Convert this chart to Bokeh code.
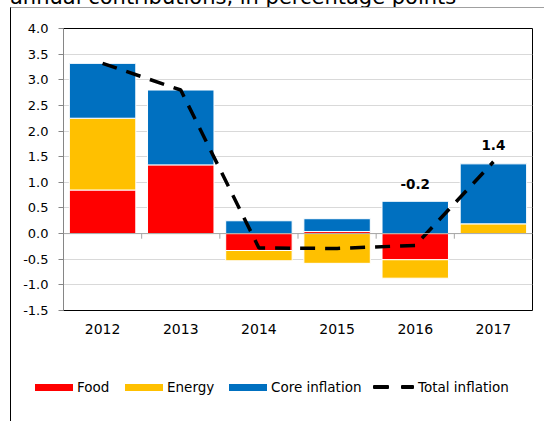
from bokeh.plotting import figure
from bokeh.models import ColumnDataSource, FixedTicker, Span, Range1d, Div
from bokeh.layouts import column
from bokeh.core.properties import value
from bokeh.embed import file_html
from bokeh.resources import INLINE

title_text = "annual contributions, in percentage points"
years = ["2012", "2013", "2014", "2015", "2016", "2017"]
food = [0.85, 1.34, -0.33, 0.04, -0.51, 0.00]
energy = [1.40, -0.02, -0.20, -0.58, -0.36, 0.19]
core = [1.07, 1.46, 0.25, 0.25, 0.63, 1.17]
total = [3.32, 2.80, -0.28, -0.29, -0.23, 1.40]
label_years = ["2016", "2017"]
label_texts = ["-0.2", "1.4"]
yticks = [-1.5, -1.0, -0.5, 0.0, 0.5, 1.0, 1.5, 2.0, 2.5, 3.0, 3.5, 4.0]
ytick_labels = ["-1.5", "-1.0", "-0.5", "0.0", "0.5", "1.0", "1.5", "2.0", "2.5", "3.0", "3.5", "4.0"]

series_names = ["Food", "Energy", "Core inflation"]
series_vals = [food, energy, core]
series_colors = ["#FF0000", "#FFC000", "#0070C0"]
total_name = "Total inflation"

FONT = "DejaVu Sans"
n = len(years)
xc = [i + 0.5 for i in range(n)]

p = figure(width=533, height=337, output_backend="svg", toolbar_location=None,
           x_range=Range1d(0, n), y_range=Range1d(yticks[0], yticks[-1]),
           min_border_left=52, min_border_right=12, min_border_top=20, min_border_bottom=35)
p.outline_line_color = "black"
p.outline_line_width = 1
p.background_fill_color = "white"
p.border_fill_color = "white"

p.ygrid.ticker = FixedTicker(ticks=yticks)
p.ygrid.grid_line_color = "#D9D9D9"
p.xgrid.grid_line_color = None

# stacked bars
pos_base = [0.0] * n
neg_base = [0.0] * n
for name, vals, col in zip(series_names, series_vals, series_colors):
    bottoms, tops = [], []
    for i, v in enumerate(vals):
        if v >= 0:
            bottoms.append(pos_base[i]); tops.append(pos_base[i] + v); pos_base[i] += v
        else:
            tops.append(neg_base[i]); bottoms.append(neg_base[i] + v); neg_base[i] += v
    src = ColumnDataSource(dict(x=xc, bottom=bottoms, top=tops))
    p.vbar(x="x", bottom="bottom", top="top", width=0.85, source=src,
           fill_color=col, line_color="white", line_width=1)

# zero line and category separators
p.add_layout(Span(location=0, dimension="width", line_color="#A6A6A6", line_width=1))
p.segment(x0=list(range(1, n)), x1=list(range(1, n)), y0=[0] * (n - 1), y1=[-0.1] * (n - 1),
          line_color="#A6A6A6", line_width=1)

p.line(xc, total, line_color="black", line_width=3.5, line_dash="15 10")

# data labels
lab_x = [xc[years.index(y)] for y in label_years]
lab_y = [max(pos_base[years.index(y)], total[years.index(y)]) for y in label_years]
p.text(x=lab_x, y=lab_y, text=label_texts, text_align="center", text_baseline="bottom",
       y_offset=-12, text_font=value(FONT), text_font_size="13.5px", text_font_style="bold",
       text_color="black")

# axes
p.yaxis.ticker = FixedTicker(ticks=yticks)
p.yaxis.major_label_overrides = {t: l for t, l in zip(yticks, ytick_labels)}
p.yaxis.axis_line_color = "#868686"
p.yaxis.major_tick_line_color = "#868686"
p.yaxis.major_tick_out = 5
p.yaxis.major_tick_in = 0
p.yaxis.minor_tick_line_color = None
p.yaxis.major_label_standoff = 10
p.yaxis.major_label_text_font = FONT
p.yaxis.major_label_text_font_size = "13px"
p.yaxis.major_label_text_color = "black"

p.xaxis.ticker = FixedTicker(ticks=xc)
p.xaxis.major_label_overrides = {x: y for x, y in zip(xc, years)}
p.xaxis.axis_line_color = None
p.xaxis.major_tick_line_color = None
p.xaxis.major_tick_out = 0
p.xaxis.major_tick_in = 0
p.xaxis.minor_tick_line_color = None
p.xaxis.minor_tick_out = 0
p.xaxis.major_label_standoff = 13
p.xaxis.major_label_text_font = FONT
p.xaxis.major_label_text_font_size = "14px"
p.xaxis.major_label_text_color = "black"

# legend strip (HTML) below the chart
patch_left = [24, 114, 218]
text_left = [66, 156, 260]
parts = []
for name, col, pl, tl in zip(series_names, series_colors, patch_left, text_left):
    parts.append(f'<span style="position:absolute;left:{pl}px;top:39px;width:38px;height:7px;'
                 f'background:{col}"></span>')
    parts.append(f'<span style="position:absolute;left:{tl}px;top:34px;line-height:16px;'
                 f'white-space:nowrap">{name}</span>')
parts.append('<span style="position:absolute;left:362px;top:40px;width:16px;height:4px;'
             'background:black;border-radius:1px"></span>')
parts.append('<span style="position:absolute;left:390px;top:40px;width:13px;height:4px;'
             'background:black;border-radius:1px"></span>')
parts.append(f'<span style="position:absolute;left:407px;top:34px;line-height:16px;'
             f'white-space:nowrap">{total_name}</span>')
legend_html = (f'<div style="position:relative;width:533px;height:76px;font-family:\'{FONT}\';'
               f'font-size:13.5px;color:black">' + "".join(parts) + '</div>')
legend_div = Div(text=legend_html, width=533, height=76, margin=(0, 0, 0, 0))

title_html = (f'<div style="position:relative;width:544px;height:7px;overflow:visible">'
              f'<span style="position:absolute;left:10px;top:-18px;font-family:\'{FONT}\';'
              f'font-size:21px;line-height:21px;white-space:nowrap;color:black">{title_text}</span></div>')
title_div = Div(text=title_html, width=544, height=7, margin=(0, 0, 0, 0))

inner = column(p, legend_div, spacing=0,
               styles={"margin-left": "10px",
                       "border-left": "1px solid black", "border-top": "1px solid #A0A0A0"})
layout = column(title_div, inner, spacing=0)

open("out.html", "w").write(file_html(layout, INLINE))
